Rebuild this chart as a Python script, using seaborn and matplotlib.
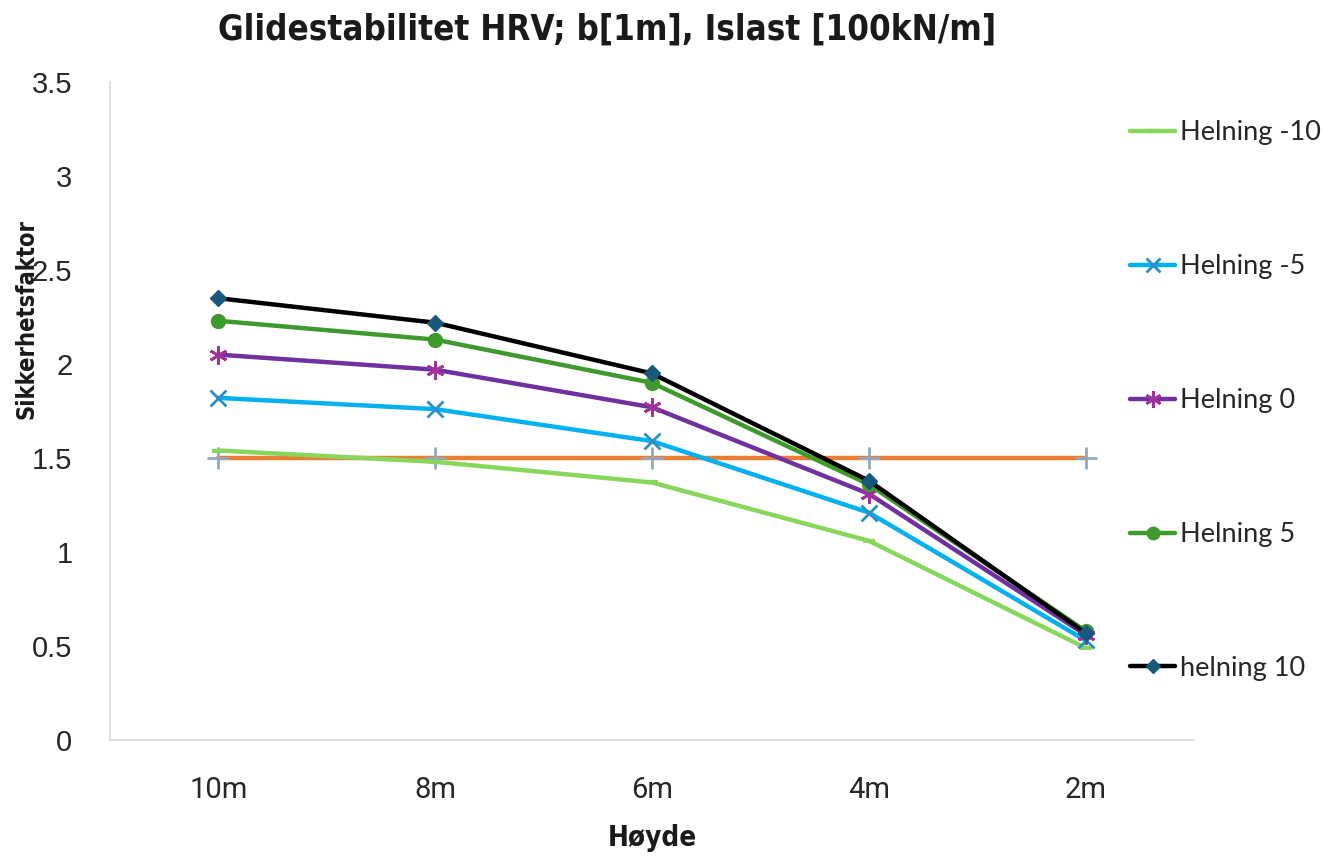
import matplotlib
matplotlib.use("Agg")
import matplotlib.pyplot as plt
from matplotlib import font_manager
import seaborn as sns
import pandas as pd

# Heights (x categories) and safety factors per slope
heights = ["10m", "8m", "6m", "4m", "2m"]
helning_m10 = [1.54, 1.48, 1.37, 1.06, 0.49]
helning_m5 = [1.82, 1.76, 1.59, 1.21, 0.53]
helning_0 = [2.05, 1.97, 1.77, 1.31, 0.56]
helning_5 = [2.23, 2.13, 1.90, 1.36, 0.58]
helning_10 = [2.35, 2.22, 1.95, 1.38, 0.57]
krav = [1.5, 1.5, 1.5, 1.5, 1.5]

series_names = ["Helning -10", "Helning -5", "Helning 0", "Helning 5", "helning 10"]
series_values = [helning_m10, helning_m5, helning_0, helning_5, helning_10]

sns.set_theme(style="white")

# pick a condensed face for the bold headings if one is installed
condensed = [f for f in font_manager.fontManager.ttflist
             if f.stretch in ("condensed", "semi-condensed", "extra-condensed", 500, 400, 300)
             and f.stretch != 500]
narrow_family = condensed[0].name if condensed else "Roboto"
narrow_stretch = condensed[0].stretch if condensed else "normal"

plt.rcParams["font.family"] = ["Lato", "DejaVu Sans"]

fig = plt.figure(figsize=(13.31, 8.58), dpi=100)
ax = fig.add_axes([0.0826, 0.1375, 0.8144, 0.7669])

frames = []
for name, vals in zip(series_names, series_values):
    frames.append(pd.DataFrame({"Høyde": heights, "Sikkerhetsfaktor": vals, "serie": name}))
frames.append(pd.DataFrame({"Høyde": heights, "Sikkerhetsfaktor": krav, "serie": "Krav"}))
df = pd.concat(frames, ignore_index=True)

styles = {
    "Krav": dict(color="#ED7D31", marker="+", mec="#8FA9BF", mfc="#8FA9BF", ms=16, mew=2),
    "Helning -10": dict(color="#88D65C", marker="_", mec="#88D65C", ms=8, mew=3),
    "Helning -5": dict(color="#00B0F0", marker="x", mec="#2C8FC4", ms=11, mew=2),
    "Helning 0": dict(color="#7030A0", marker=(6, 2, 0), mec="#A0329A", ms=13, mew=2),
    "Helning 5": dict(color="#3F9A2E", marker="o", mec="#3F9A2E", mfc="#3F9A2E", ms=10, mew=1),
    "helning 10": dict(color="#000000", marker="D", mec="#17597A", mfc="#17597A", ms=8, mew=1),
}

order = ["Krav", "Helning -10", "Helning -5", "Helning 0", "Helning 5", "helning 10"]
handles = {}
for name in order:
    st = styles[name]
    sub = df[df["serie"] == name]
    sns.lineplot(data=sub, x="Høyde", y="Sikkerhetsfaktor", ax=ax, color=st["color"],
                 linewidth=3.2, marker=st["marker"], markersize=st["ms"],
                 markeredgecolor=st["mec"], markerfacecolor=st.get("mfc", st["mec"]),
                 markeredgewidth=st["mew"], label=name, legend=False, sort=False)
    handles[name] = ax.lines[-1]

ax.set_xlim(-0.5, 4.5)
ax.set_ylim(0, 3.5)
ax.set_yticks([0, 0.5, 1, 1.5, 2, 2.5, 3, 3.5])
ax.set_yticklabels(["0", "0.5", "1", "1.5", "2", "2.5", "3", "3.5"],
                   fontfamily="Liberation Sans", fontsize=21, color="#262626")
ax.set_xticks(range(len(heights)))
ax.set_xticklabels(heights, fontfamily="Roboto", fontsize=21, color="#262626")
ax.tick_params(axis="x", length=0, pad=26)
ax.tick_params(axis="y", length=0, pad=27)

for side in ["top", "right"]:
    ax.spines[side].set_visible(False)
for side in ["left", "bottom"]:
    ax.spines[side].set_color("#D9D9D9")
    ax.spines[side].set_linewidth(1.2)
ax.grid(False)

label_font = dict(fontfamily=narrow_family, fontstretch=narrow_stretch, fontweight="bold",
                  color="#1a1a1a")
ax.set_xlabel("Høyde", fontsize=20, **label_font)
ax.xaxis.set_label_coords(0.5, -0.128)
ax.set_ylabel("Sikkerhetsfaktor", fontsize=17, **label_font)
ax.yaxis.set_label_coords(-0.066, 0.64)

fig.suptitle("Glidestabilitet HRV; b[1m], Islast [100kN/m]", x=0.456, y=0.985,
             fontsize=25, **label_font)

leg_order = ["Helning -10", "Helning -5", "Helning 0", "Helning 5", "helning 10"]
fig.legend([handles[n] for n in leg_order], leg_order, loc="upper left",
           bbox_to_anchor=(0.831, 0.888), frameon=False,
           prop=dict(family="Lato", size=19.5),
           labelspacing=4.02, handlelength=1.65, handletextpad=0.18, markerscale=0.9)

fig.savefig("out.png", dpi=100)
